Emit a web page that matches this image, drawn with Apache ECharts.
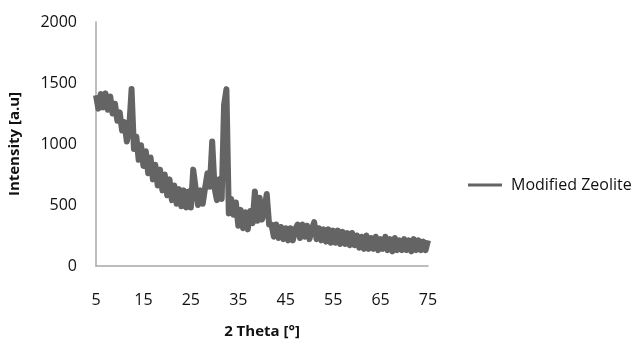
<!DOCTYPE html>
<html>
<head>
<meta charset="utf-8">
<script src="https://cdn.jsdelivr.net/npm/echarts@6/dist/echarts.min.js"></script>
<style>
  html, body { margin: 0; padding: 0; background: #fff; }
  #chart { width: 640px; height: 343px; }
</style>
</head>
<body>
<div id="chart"></div>
<script>
// scan: 5 to 75 deg 2theta, step 0.5
const scanStart = 5;
const scanStep = 0.5;

// intensity (zig-zag noise band)
const intensity = [
  1400, 1290, 1410, 1300, 1415, 1280, 1390, 1250, 1330, 1190,
  1260, 1110, 1180, 1020, 1130, 1450, 960, 1060, 870, 990,
  820, 940, 760, 890, 710, 830, 660, 790, 620, 750,
  580, 710, 540, 660, 510, 630, 490, 620, 480, 610,
  480, 790, 640, 500, 620, 510, 640, 760, 650, 1020,
  640, 540, 710, 550, 1320, 1450, 430, 550, 420, 520,
  330, 460, 310, 440, 300, 450, 350, 610, 370, 560,
  380, 460, 590, 340, 340, 240, 340, 230, 320, 220,
  310, 210, 310, 210, 300, 340, 230, 340, 240, 330,
  220, 300, 360, 220, 310, 210, 300, 200, 300, 190,
  290, 190, 290, 180, 280, 180, 270, 170, 270, 170,
  250, 150, 240, 140, 250, 140, 230, 140, 240, 130,
  220, 140, 240, 130, 220, 120, 230, 130, 210, 130,
  220, 130, 210, 120, 220, 130, 210, 130, 200, 130,
  210
];

const twoTheta = [];
for (let i = 0; i < intensity.length; i++) {
  twoTheta.push(String(scanStart + scanStep * i));
}

const yTicks = [0, 500, 1000, 1500, 2000];
const seriesName = 'Modified Zeolite';

const chart = echarts.init(document.getElementById('chart'), null, { renderer: 'canvas' });

const font = '"Open Sans", "DejaVu Sans", sans-serif';
const axisGray = '#a8a8a8';
const lineGray = '#646464';

chart.setOption({
  animation: false,
  backgroundColor: '#ffffff',
  grid: {
    left: 96,
    right: 212,
    top: 22,
    bottom: 77,
    containLabel: false,
    outerBoundsMode: 'none'
  },
  legend: {
    data: [seriesName],
    left: 463,
    top: 172,
    icon: 'rect',
    itemWidth: 34,
    itemHeight: 3,
    textStyle: {
      fontFamily: font,
      fontSize: 16,
      color: '#111',
      padding: [0, 0, 0, 4]
    }
  },
  xAxis: {
    type: 'category',
    data: twoTheta,
    boundaryGap: false,
    name: '2 Theta [°]',
    nameLocation: 'middle',
    nameGap: 58,
    nameTextStyle: {
      fontFamily: font,
      fontSize: 15,
      fontWeight: 'bold',
      color: '#111'
    },
    axisLine: { lineStyle: { color: axisGray, width: 1.5 } },
    axisTick: { show: false },
    splitLine: { show: false },
    axisLabel: {
      interval: 19,
      margin: 26,
      fontFamily: font,
      fontSize: 16,
      color: '#111'
    }
  },
  yAxis: {
    type: 'value',
    min: yTicks[0],
    max: yTicks[yTicks.length - 1],
    interval: 500,
    name: 'Intensity [a.u]',
    nameLocation: 'middle',
    nameGap: 74,
    nameRotate: 90,
    nameTextStyle: {
      fontFamily: font,
      fontSize: 15,
      fontWeight: 'bold',
      color: '#111'
    },
    axisLine: { show: true, lineStyle: { color: axisGray, width: 1.5 } },
    axisTick: { show: false },
    splitLine: { show: false },
    axisLabel: {
      margin: 19,
      fontFamily: font,
      fontSize: 16,
      color: '#111',
      formatter: function (v) { return String(v); }
    }
  },
  series: [{
    name: seriesName,
    type: 'line',
    data: intensity,
    symbol: 'none',
    smooth: false,
    color: lineGray,
    lineStyle: { color: lineGray, width: 6, join: 'round' }
  }]
});
</script>
</body>
</html>
